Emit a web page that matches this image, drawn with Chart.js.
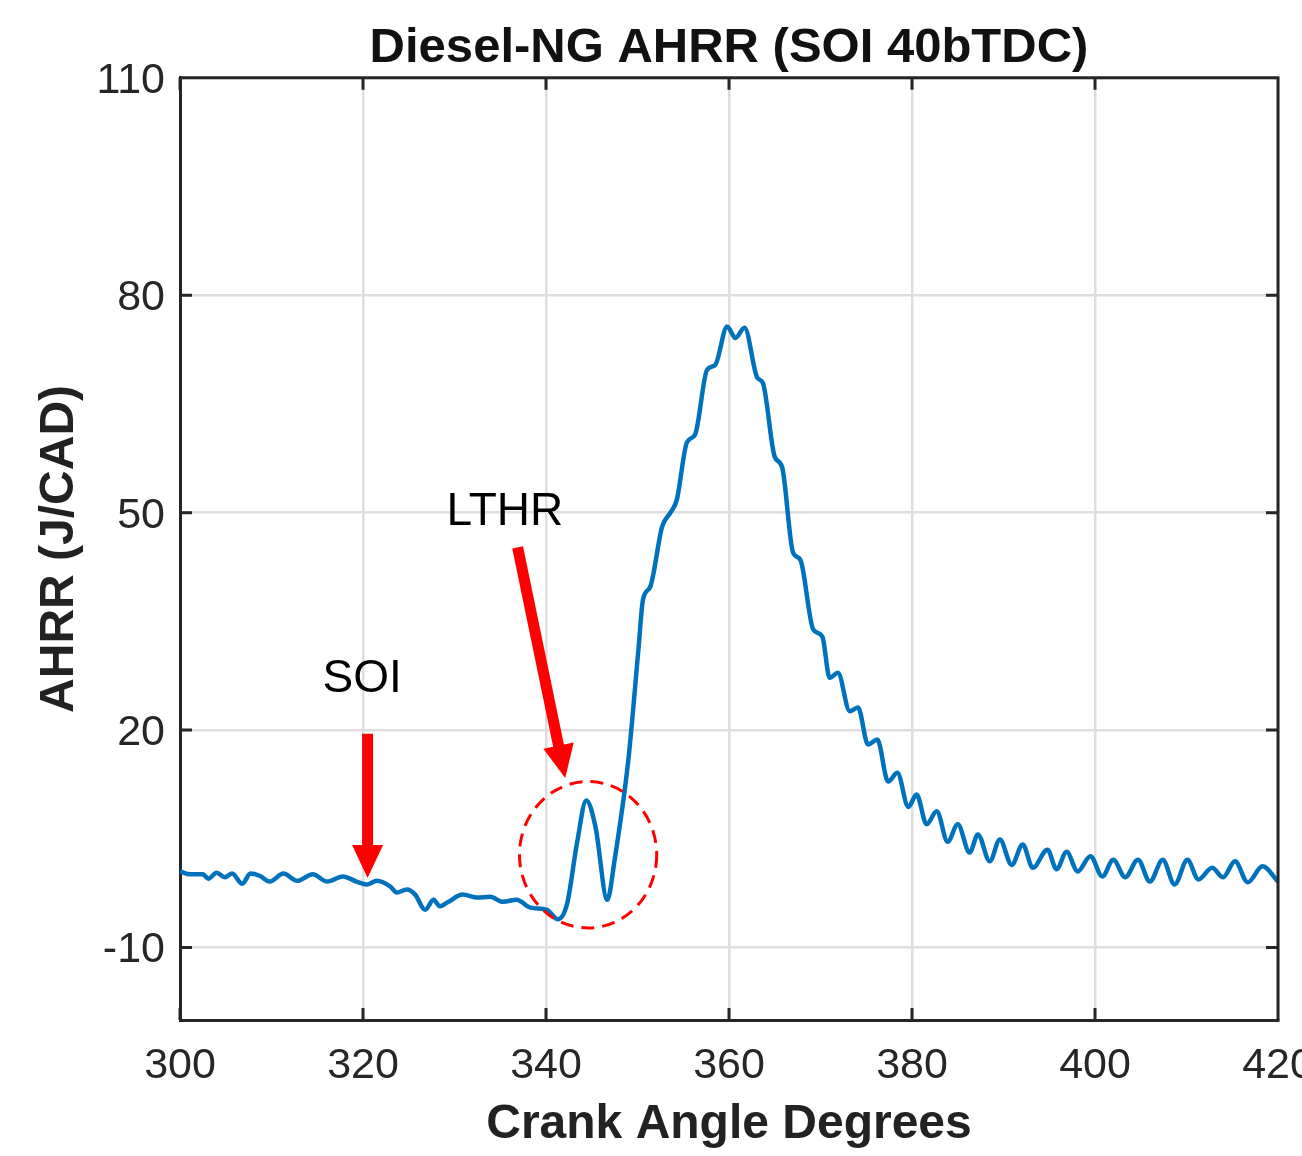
<!doctype html>
<html lang="en">
<head>
<meta charset="utf-8">
<title>Diesel-NG AHRR (SOI 40bTDC)</title>
<script src="https://cdn.jsdelivr.net/npm/chart.js"></script>
<style>
  html, body { margin: 0; padding: 0; background: #fff; }
  /* canvas is a bit wider than the window so the "420" label is cut like the original */
  #wrap { width: 1302px; height: 1156px; overflow: hidden; }
  #ahrrChart { display: block; }
</style>
</head>
<body>
<div id="wrap"><canvas id="ahrrChart" width="1360" height="1156"></canvas></div>
<script>
// ---- data ----
const crankAngle = [300, 301.1, 302.5, 303.1, 304.0, 304.9, 305.7, 306.8, 307.7, 308.7,
  309.8, 311.3, 312.8, 314.5, 316.1, 317.8, 319.3, 320.4, 321.5, 323.0,
  323.7, 324.8, 325.7, 326.8, 327.7, 328.4, 329.2, 330.9, 332.5, 333.9,
  335.3, 336.8, 338.3, 340.1, 341.3, 342.3, 343.4, 344.4, 345.4, 346.7,
  347.5, 349.0, 350.1, 350.6, 351.4, 352.7, 353.6, 354.3, 355.4, 356.3,
  357.6, 358.5, 359.8, 360.7, 361.7, 363.1, 363.7, 365.0, 365.8, 367.0,
  367.8, 369.2, 370.2, 371.0, 371.9, 373.2, 374.1, 375.2, 376.2, 377.4,
  378.4, 379.6, 380.5, 381.6, 382.7, 383.9, 385.0, 386.3, 387.2, 388.5,
  389.6, 390.9, 392.1, 393.2, 394.8, 395.8, 396.9, 398.1, 399.5, 400.8,
  402.0, 403.3, 404.7, 406.0, 407.4, 408.7, 410.1, 411.3, 412.8, 414.0,
  415.3, 416.7, 418.3, 420];
const ahrr = [0.5, 0.1, 0.1, -0.5, 0.3, -0.3, 0.2, -1.2, 0.2, -0.1,
  -0.9, 0.2, -0.8, 0.1, -0.9, -0.2, -0.9, -1.3, -0.8, -1.6,
  -2.4, -2.0, -2.7, -4.8, -3.4, -4.3, -3.8, -2.7, -3.1, -3.0,
  -3.7, -3.4, -4.5, -4.8, -6.1, -4.0, 4.5, 10.3, 6.7, -3.4,
  2.1, 15.9, 31.1, 38.0, 39.8, 48.1, 50.0, 51.8, 59.7, 60.8,
  69.7, 70.4, 75.7, 74.1, 75.5, 68.6, 67.9, 57.7, 56.3, 44.5,
  43.5, 33.9, 32.9, 27.2, 27.9, 22.6, 23.1, 18.0, 18.7, 12.9,
  14.1, 9.4, 11.1, 7.0, 8.8, 4.6, 7.0, 3.1, 5.6, 1.9,
  4.9, 1.4, 4.2, 1.0, 3.5, 0.8, 3.2, 0.5, 2.6, -0.2,
  2.1, -0.3, 2.1, -0.9, 2.1, -1.3, 2.1, -0.6, 1.0, -0.3,
  1.9, -1.0, 1.2, -0.9];
const xTicks = [300, 320, 340, 360, 380, 400, 420];
const yTicks = [-10, 20, 50, 80, 110];

// annotation anchors, in data units
const soiLabel = {x: 319.9, y: 27.0};
const soiArrow = {x0: 320.5, y0: 19.5, x1: 320.5, y1: -0.4};
const lthrLabel = {x: 335.5, y: 50.1};
const lthrArrow = {x0: 336.9, y0: 45.2, x1: 342.1, y1: 13.4};
const lthrRing = {x: 344.6, y: 2.8, rx: 7.5, ry: 10.1};

const axisCol = '#262626';
const red = '#ff0000';
const fam = '"Liberation Sans", Arial, Helvetica, sans-serif';

function drawArrow(ctx, x0, y0, x1, y1) {
  const ang = Math.atan2(y1 - y0, x1 - x0);
  const headLen = 33, headW = 31;
  const bx = x1 - headLen * Math.cos(ang), by = y1 - headLen * Math.sin(ang);
  ctx.lineWidth = 11;
  ctx.beginPath(); ctx.moveTo(x0, y0); ctx.lineTo(bx + Math.cos(ang), by + Math.sin(ang)); ctx.stroke();
  ctx.beginPath();
  ctx.moveTo(x1, y1);
  ctx.lineTo(bx + headW / 2 * Math.sin(ang), by - headW / 2 * Math.cos(ang));
  ctx.lineTo(bx - headW / 2 * Math.sin(ang), by + headW / 2 * Math.cos(ang));
  ctx.closePath(); ctx.fill();
}

const matlabBox = {
  id: 'matlabBox',
  afterDraw(chart) {
    const {ctx, chartArea: a, scales: {x, y}} = chart;
    ctx.save();

    // annotations
    ctx.strokeStyle = red; ctx.fillStyle = red;
    const s = soiArrow, l = lthrArrow;
    drawArrow(ctx, x.getPixelForValue(s.x0), y.getPixelForValue(s.y0), x.getPixelForValue(s.x1), y.getPixelForValue(s.y1));
    drawArrow(ctx, x.getPixelForValue(l.x0), y.getPixelForValue(l.y0), x.getPixelForValue(l.x1), y.getPixelForValue(l.y1));
    const cx = x.getPixelForValue(lthrRing.x), cy = y.getPixelForValue(lthrRing.y);
    const rx = x.getPixelForValue(lthrRing.x + lthrRing.rx) - cx;
    const ry = cy - y.getPixelForValue(lthrRing.y + lthrRing.ry);
    ctx.lineWidth = 3; ctx.setLineDash([13, 8]);
    ctx.beginPath(); ctx.ellipse(cx, cy, rx, ry, 0, 0, Math.PI * 2); ctx.stroke();
    ctx.setLineDash([]);

    ctx.fillStyle = '#000';
    ctx.font = '46px ' + fam;
    ctx.textAlign = 'center'; ctx.textBaseline = 'middle';
    ctx.fillText('SOI', x.getPixelForValue(soiLabel.x), y.getPixelForValue(soiLabel.y));
    ctx.fillText('LTHR', x.getPixelForValue(lthrLabel.x), y.getPixelForValue(lthrLabel.y));

    // top/right box lines and inward ticks on all sides
    ctx.strokeStyle = axisCol; ctx.lineWidth = 3;
    ctx.beginPath();
    ctx.moveTo(a.left, a.top); ctx.lineTo(a.right, a.top); ctx.lineTo(a.right, a.bottom);
    xTicks.forEach(v => {
      const px = x.getPixelForValue(v);
      ctx.moveTo(px, a.bottom); ctx.lineTo(px, a.bottom - 12);
      ctx.moveTo(px, a.top); ctx.lineTo(px, a.top + 12);
    });
    yTicks.forEach(v => {
      const py = y.getPixelForValue(v);
      ctx.moveTo(a.left, py); ctx.lineTo(a.left + 12, py);
      ctx.moveTo(a.right, py); ctx.lineTo(a.right - 12, py);
    });
    ctx.stroke();
    ctx.restore();
  }
};

const ctx = document.getElementById('ahrrChart').getContext('2d');
new Chart(ctx, {
  type: 'line',
  data: {
    datasets: [{
      label: 'AHRR',
      data: crankAngle.map((c, i) => ({x: c, y: ahrr[i]})),
      borderColor: '#0072BD',
      borderWidth: 4.5,
      pointRadius: 0,
      fill: false,
      cubicInterpolationMode: 'monotone'
    }]
  },
  options: {
    responsive: false,
    animation: false,
    layout: { padding: { left: 0, right: 82, top: 0, bottom: 0 } },
    plugins: {
      legend: { display: false },
      tooltip: { enabled: false },
      title: {
        display: true,
        fullSize: false,
        text: 'Diesel-NG AHRR (SOI 40bTDC)',
        color: '#111',
        font: { family: fam, size: 49, weight: 'bold' },
        padding: { top: 19, bottom: 0 }
      }
    },
    scales: {
      x: {
        type: 'linear',
        min: 300, max: 420,
        afterBuildTicks: sc => { sc.ticks = xTicks.map(v => ({value: v})); },
        afterFit: sc => { sc.height = 136; },
        grid: { color: '#dedede', lineWidth: 2.5, drawTicks: false },
        border: { color: axisCol, width: 3 },
        ticks: { color: axisCol, font: { family: fam, size: 43 }, padding: 20, maxRotation: 0, autoSkip: false },
        title: {
          display: true, text: 'Crank Angle Degrees', color: '#222',
          font: { family: fam, size: 48, weight: 'bold' },
          padding: { top: 0, bottom: 2 }
        }
      },
      y: {
        min: -20, max: 110,
        afterBuildTicks: sc => { sc.ticks = yTicks.map(v => ({value: v})); },
        afterFit: sc => { sc.width = 180; },
        grid: { color: '#dedede', lineWidth: 2.5, drawTicks: false },
        border: { color: axisCol, width: 3 },
        ticks: { color: axisCol, font: { family: fam, size: 43 }, padding: 15, labelOffset: 3 },
        title: {
          display: true, text: 'AHRR (J/CAD)', color: '#222',
          font: { family: fam, size: 48, weight: 'bold' },
          padding: { top: 31, bottom: 0 }
        }
      }
    }
  },
  plugins: [matlabBox]
});
</script>
</body>
</html>
